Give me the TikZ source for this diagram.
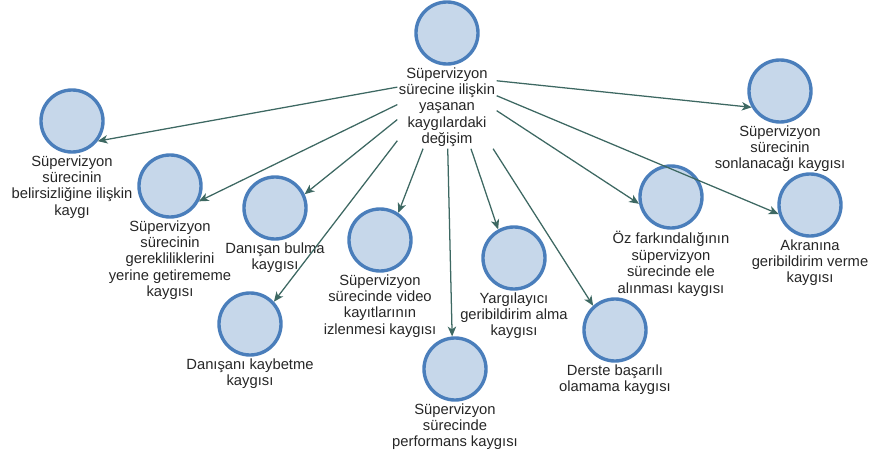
\documentclass[tikz,border=0pt]{standalone}
\usepackage{fontspec}
\setmainfont{Liberation Sans}
\usetikzlibrary{positioning,arrows.meta}
\definecolor{kfill}{HTML}{C6D7EA}
\definecolor{kline}{HTML}{4A7EBB}
\definecolor{karrow}{HTML}{3D6862}
\begin{document}
\begin{tikzpicture}[x=0.025cm,y=-0.025cm]
            \tikzstyle{kaygi}=[circle,draw=kline,fill=kfill,line width=2.4pt,minimum size=1.55cm,inner sep=0pt]
            \tikzstyle{etiket}=[align=center,inner sep=1pt,font=\fontsize{10.5}{11.7}\selectfont,text=black!85]
            \tikzstyle{ok}=[-{Stealth[length=7pt,width=6pt,inset=2pt]},draw=karrow,line width=0.9pt]

            \useasboundingbox (0,0) rectangle (870,458);

            %merkez
            \node[kaygi] (c0) at (447,33) {};
            \node[etiket,below=0pt of c0] (l0) {Süpervizyon\\sürecine ilişkin\\yaşanan\\kaygılardaki\\değişim};

            %sol_taraf
            \node[kaygi] (c1) at (72,121) {};
            \node[etiket,below=0pt of c1] (l1) {Süpervizyon\\sürecinin\\belirsizliğine ilişkin\\kaygı};
            \node[kaygi] (c2) at (170,186) {};
            \node[etiket,below=0pt of c2] (l2) {Süpervizyon\\sürecinin\\gerekliliklerini\\yerine getirememe\\kaygısı};
            \node[kaygi] (c3) at (275,208) {};
            \node[etiket,below=0pt of c3] (l3) {Danışan bulma\\kaygısı};
            \node[kaygi] (c4) at (250,324) {};
            \node[etiket,below=0pt of c4] (l4) {Danışanı kaybetme\\kaygısı};

            %orta
            \node[kaygi] (c5) at (380,240) {};
            \node[etiket,below=0pt of c5] (l5) {Süpervizyon\\sürecinde video\\kayıtlarının\\izlenmesi kaygısı};
            \node[kaygi] (c6) at (455,369) {};
            \node[etiket,below=0pt of c6] (l6) {Süpervizyon\\sürecinde\\performans kaygısı};
            \node[kaygi] (c7) at (514,258) {};
            \node[etiket,below=0pt of c7] (l7) {Yargılayıcı\\geribildirim alma\\kaygısı};
            \node[kaygi] (c8) at (615,330) {};
            \node[etiket,below=0pt of c8] (l8) {Derste başarılı\\olamama kaygısı};

            %sag_taraf
            \node[kaygi] (c9) at (671,197) {};
            \node[etiket,below=0pt of c9] (l9) {Öz farkındalığının\\süpervizyon\\sürecinde ele\\alınması kaygısı};
            \node[kaygi] (c10) at (810,205) {};
            \node[etiket,below=0pt of c10] (l10) {Akranına\\geribildirim verme\\kaygısı};
            \node[kaygi] (c11) at (780,91) {};
            \node[etiket,below=0pt of c11] (l11) {Süpervizyon\\sürecinin\\sonlanacağı kaygısı};

            %oklar
            \foreach \i/\a/\b in {1/158/-38,2/177/-28,3/194/25,4/214/43,5/240/56,6/271/95,
                                  7/300/119,8/318/132,9/356/192,10/13/196,11/28/210}
            {
                \draw[ok] (l0.\a) -- (c\i.\b);
            }
\end{tikzpicture}
\end{document}
